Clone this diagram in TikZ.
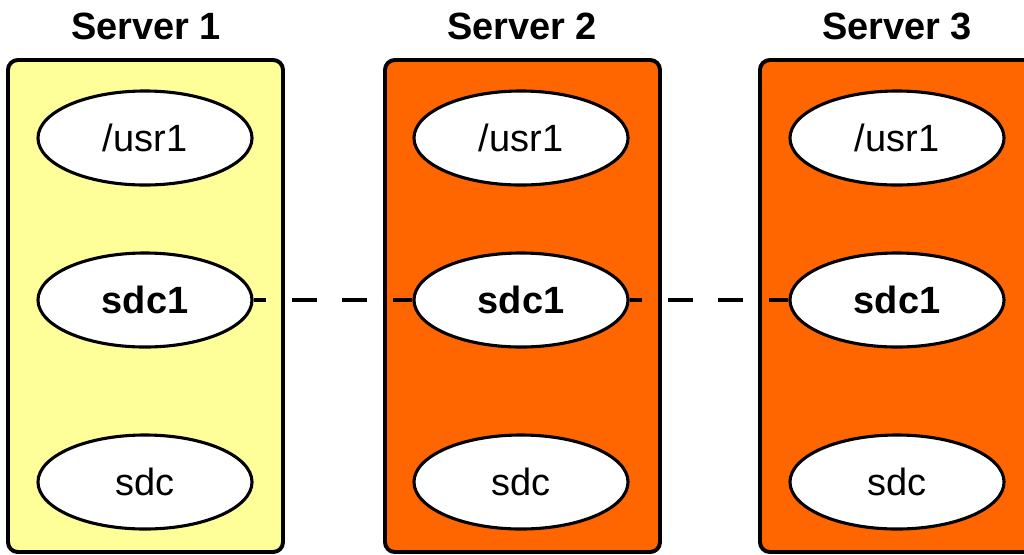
\documentclass[tikz,border=0pt]{standalone}
\usepackage{fontspec}
\setmainfont{Liberation Sans}
\usetikzlibrary{shapes.geometric}

\definecolor{paleyellow}{HTML}{FFFF99}
\definecolor{hotorange}{HTML}{FF6600}

\tikzset{
    server/.style={draw=black, line width=2.8pt, rounded corners=7pt},
    disk/.style={shape=ellipse, draw=black, fill=white, line width=2.2pt,
        minimum width=5.35cm, minimum height=2.35cm, inner sep=0pt, font=\fontsize{27}{30}\selectfont},
    title/.style={font=\bfseries\fontsize{27}{30}\selectfont}
}

\begin{document}
\begin{tikzpicture}[x=0.025cm, y=-0.025cm]
    \useasboundingbox (0, 0) rectangle (1024, 554);
    
    \draw[server, fill=paleyellow] (8, 60) rectangle (283, 552);
    \draw[server, fill=hotorange] (385, 60) rectangle (660, 552);
    \draw[server, fill=hotorange] (760, 60) rectangle (1035, 552);
    
    \node[title] (t1) at (146, 26) {Server 1};
    \node[title] (t2) at (522, 26) {Server 2};
    \node[title] (t3) at (897, 26) {Server 3};
    
    \node[disk] (usr1a) at (145, 138) {/usr1};
    \node[disk] (sdc1a) at (145, 300) {\bfseries sdc1};
    \node[disk] (sdca)  at (145, 482) {sdc};
    
    \node[disk] (usr1b) at (521, 138) {/usr1};
    \node[disk] (sdc1b) at (521, 300) {\bfseries sdc1};
    \node[disk] (sdcb)  at (521, 482) {sdc};
    
    \node[disk] (usr1c) at (897, 138) {/usr1};
    \node[disk] (sdc1c) at (897, 300) {\bfseries sdc1};
    \node[disk] (sdcc)  at (897, 482) {sdc};
    
    \path[-, line width=2.8pt, dash pattern=on 18pt off 18pt, dash phase=9pt] (sdc1a) edge (sdc1b);
    \path[-, line width=2.8pt, dash pattern=on 18pt off 18pt, dash phase=9pt] (sdc1b) edge (sdc1c);
    
\end{tikzpicture}
\end{document}
